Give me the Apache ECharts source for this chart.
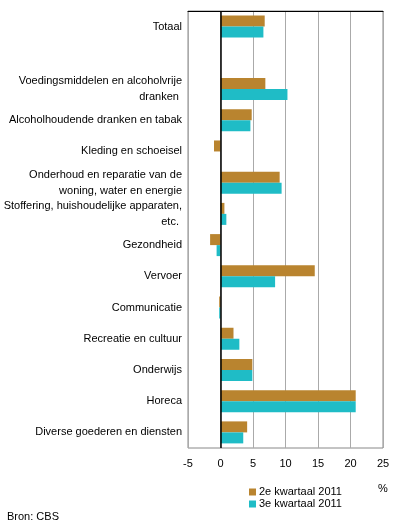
<!DOCTYPE html>
<html>
<head>
<meta charset="utf-8">
<script src="https://cdn.jsdelivr.net/npm/echarts@6/dist/echarts.min.js"></script>
<style>
  html, body { margin: 0; padding: 0; background: #fff; }
  #chart { width: 396px; height: 530px; }
</style>
</head>
<body>
<div id="chart"></div>
<script>
// categorieën (van boven naar beneden)
const categories = [
  'Totaal',
  '',
  'Voedingsmiddelen en alcoholvrije\ndranken ',
  'Alcoholhoudende dranken en tabak',
  'Kleding en schoeisel',
  'Onderhoud en reparatie van de\nwoning, water en energie',
  'Stoffering, huishoudelijke apparaten,\netc. ',
  'Gezondheid',
  'Vervoer',
  'Communicatie',
  'Recreatie en cultuur',
  'Onderwijs',
  'Horeca',
  'Diverse goederen en diensten'
]

// waarden in %
const kwartaal2 = [6.8, null, 6.9, 4.8, -1.0, 9.1, 0.6, -1.6, 14.5, -0.2, 2.0, 4.9, 20.8, 4.1]
const kwartaal3 = [6.6, null, 10.3, 4.6, 0, 9.4, 0.9, -0.6, 8.4, -0.2, 2.9, 4.9, 20.8, 3.5]

const seriesNames = ['2e kwartaal 2011', '3e kwartaal 2011']
const xTicks = { min: -5, max: 25, interval: 5 }

const font = "'Liberation Sans', Arial, sans-serif"
const chart = echarts.init(document.getElementById('chart'))

const option = {
  animation: false,
  textStyle: { fontFamily: font },
  grid: {
    left: 188,
    right: 13,
    top: 11,
    bottom: 82,
    show: true,
    borderColor: '#888',
    borderWidth: 1
  },
  legend: {
    data: seriesNames,
    orient: 'vertical',
    left: 249,
    top: 486,
    itemWidth: 7,
    itemHeight: 7,
    itemGap: 0,
    icon: 'rect',
    padding: 0,
    textStyle: { fontSize: 11, color: '#000', fontFamily: font, lineHeight: 12, padding: [0, 0, 0, -2] }
  },
  graphic: [
    { type: 'text', left: 378, top: 483, style: { text: '%', fontSize: 11, fontFamily: font, fill: '#000' } },
    { type: 'text', left: 7, top: 511, style: { text: 'Bron: CBS', fontSize: 11, fontFamily: font, fill: '#000' } }
  ],
  xAxis: [
    {
      type: 'value',
      min: xTicks.min,
      max: xTicks.max,
      interval: xTicks.interval,
      axisLine: { show: false },
      axisTick: { show: false },
      axisLabel: { fontSize: 11, color: '#000', margin: 10, fontFamily: font },
      splitLine: { show: true, lineStyle: { color: '#aaa', width: 1 } }
    },
    {
      // zwarte lijn bovenaan
      type: 'value',
      position: 'top',
      min: xTicks.min,
      max: xTicks.max,
      interval: xTicks.interval,
      axisLine: { show: true, onZero: false, lineStyle: { color: '#000', width: 1 } },
      axisTick: { show: false },
      axisLabel: { show: false },
      splitLine: { show: false }
    }
  ],
  yAxis: {
    type: 'category',
    inverse: true,
    data: categories,
    axisLine: { show: false },
    axisTick: { show: false },
    axisLabel: {
      fontSize: 11,
      color: '#000',
      margin: 6,
      lineHeight: 16,
      align: 'right',
      fontFamily: font,
      interval: 0
    }
  },
  series: [
    {
      name: seriesNames[0],
      type: 'bar',
      data: kwartaal2,
      barWidth: 11,
      barGap: 0,
      itemStyle: { color: '#b9842f' },
      markLine: {
        silent: true,
        symbol: 'none',
        label: { show: false },
        lineStyle: { color: '#000', width: 1.5, type: 'solid' },
        data: [{ xAxis: 0 }]
      }
    },
    {
      name: seriesNames[1],
      type: 'bar',
      data: kwartaal3,
      barWidth: 11,
      barGap: 0,
      itemStyle: { color: '#1fbcc6' }
    }
  ]
}

chart.setOption(option)
</script>
</body>
</html>
